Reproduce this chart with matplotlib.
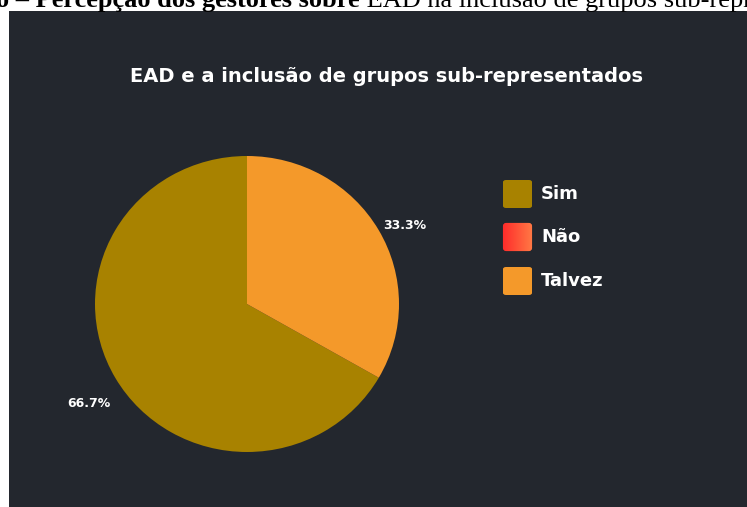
import numpy as np
import matplotlib
matplotlib.use("Agg")
import matplotlib.pyplot as plt
from matplotlib.patches import FancyBboxPatch, Rectangle

# 数据
categorias = ["Sim", "Não", "Talvez"]
valores = [66.7, 0.0, 33.3]
cores = ["#A88200", "#FF4433", "#F4992A"]
titulo = "EAD e a inclusão de grupos sub-representados"
legenda_topo_negrito = "o – Percepção dos gestores sobre"
legenda_topo_normal = " EAD na inclusão de grupos sub-representados"

W, H = 747, 507
fig = plt.figure(figsize=(W / 100, H / 100), dpi=100)
fig.patch.set_facecolor("white")


def px(x, y):
    return x / W, 1 - y / H


# painel escuro
fig.patches.append(Rectangle(px(9, 507), (W - 9) / W, (507 - 11) / H,
                             transform=fig.transFigure, facecolor="#23272E",
                             edgecolor="none", zorder=-5))

# texto do documento (cortado no topo)
t1 = fig.text(*px(-4, 7.5), legenda_topo_negrito, fontsize=19, fontweight="bold",
              family="Liberation Serif", color="black", va="baseline", ha="left")
fig.canvas.draw()
bb = t1.get_window_extent()
fig.text(bb.x1 / W, 1 - 7.5 / H, legenda_topo_normal, fontsize=19,
         family="Liberation Serif", color="black", va="baseline", ha="left")

# título
fig.text(*px(386, 76), titulo, fontsize=14, fontweight="bold", family="DejaVu Sans",
         color="white", ha="center", va="center")

# pizza (levemente achatada como na imagem)
x0p, x1p, y0p, y1p = 95, 399, 156, 452
ax = fig.add_axes([x0p / W, (H - y1p) / H, (x1p - x0p) / W, (y1p - y0p) / H], zorder=1)
ax.set_facecolor("none")
wedges, _ = ax.pie(valores, colors=cores, startangle=90, counterclock=True,
                   radius=1, wedgeprops=dict(linewidth=0))
ax.set_aspect("auto")
ax.set_xlim(-1, 1)
ax.set_ylim(-1, 1)
ax.axis("off")

# percentuais
tot = sum(valores)
ang = 90
for v in valores:
    if v > 0:
        meio = np.deg2rad(ang + v / tot * 360 / 2)
        ax.text(1.2 * np.cos(meio), 1.2 * np.sin(meio) - 0.07, f"{v:.1f}%", color="white",
                fontsize=9, fontweight="bold", ha="center", va="center")
    ang += v / tot * 360

# legenda
ys = [179, 222, 266]
for nome, cor, y in zip(categorias, cores, ys):
    x0, bw, bh = 502, 31, 30
    if nome == "Não":
        lax = fig.add_axes([x0 / W, (H - y - bh) / H, bw / W, bh / H], zorder=2)
        grad = np.linspace(0, 1, 64).reshape(1, -1)
        cmap = matplotlib.colors.LinearSegmentedColormap.from_list("g", ["#FF2A2A", "#FF7A45"])
        im = lax.imshow(grad, aspect="auto", cmap=cmap, extent=[0, 1, 0, 1])
        clip = FancyBboxPatch((0.03, 0.03), 0.94, 0.94, boxstyle="round,pad=0,rounding_size=0.1",
                              transform=lax.transAxes, facecolor="none", edgecolor="none")
        lax.add_patch(clip)
        im.set_clip_path(clip)
        lax.axis("off")
    else:
        fig.patches.append(FancyBboxPatch(px(x0 + 1, y + bh - 1), (bw - 2) / W, (bh - 2) / H,
                                          boxstyle="round,pad=0,rounding_size=0.004",
                                          transform=fig.transFigure, facecolor=cor,
                                          edgecolor="none", zorder=2))
    fig.text(*px(541, y + bh / 2), nome, color="white", fontsize=13, fontweight="bold",
             family="DejaVu Sans", ha="left", va="center")

fig.savefig("out.png", dpi=100, facecolor=fig.get_facecolor())
